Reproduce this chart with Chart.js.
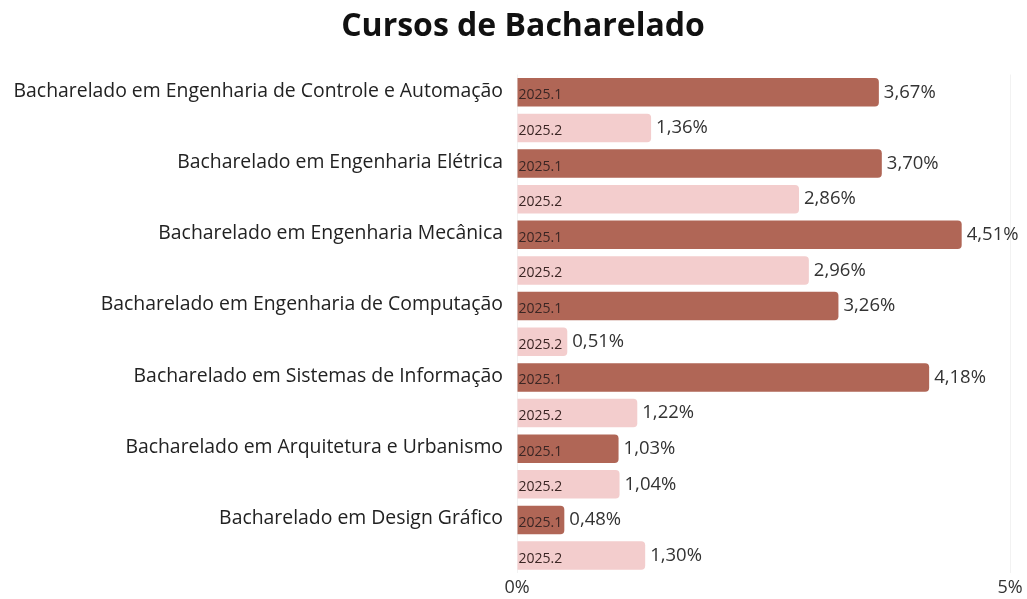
<!DOCTYPE html>
<html>
<head>
<meta charset="utf-8">
<script src="https://cdn.jsdelivr.net/npm/chart.js@4"></script>
<style>
  html, body { margin: 0; padding: 0; background: #fff; }
  #wrap { width: 1027px; height: 599px; }
</style>
</head>
<body>
<div id="wrap"><canvas id="cursosChart"></canvas></div>
<script>
const cursos = [
    'Bacharelado em Engenharia de Controle e Automação',
    'Bacharelado em Engenharia Elétrica',
    'Bacharelado em Engenharia Mecânica',
    'Bacharelado em Engenharia de Computação',
    'Bacharelado em Sistemas de Informação',
    'Bacharelado em Arquitetura e Urbanismo',
    'Bacharelado em Design Gráfico'
];
const semestres = ['2025.1', '2025.2'];
const valores20251 = [3.67, 3.70, 4.51, 3.26, 4.18, 1.03, 0.48];
const valores20252 = [1.36, 2.86, 2.96, 0.51, 1.22, 1.04, 1.30];
const ticksX = [0, 5];
const titulo = 'Cursos de Bacharelado';

const fonte = "'Open Sans', sans-serif";

function formatPct(v) {
    return v.toFixed(2).replace('.', ',') + '%';
}

// Semester tag inside each bar and the value after its end
const barLabels = {
    id: 'barLabels',
    afterDatasetsDraw(chart) {
        const ctx = chart.ctx;
        ctx.save();
        chart.data.datasets.forEach((ds, i) => {
            const meta = chart.getDatasetMeta(i);
            meta.data.forEach((bar, j) => {
                ctx.textBaseline = 'middle';
                ctx.textAlign = 'left';
                ctx.font = '14px ' + fonte;
                ctx.fillStyle = '#3b2624';
                ctx.fillText(ds.label, bar.base + 1, bar.y + 3);
                ctx.font = '18.5px ' + fonte;
                ctx.fillStyle = '#333';
                ctx.fillText(formatPct(ds.data[j]), bar.x + 5, bar.y);
            });
        });
        ctx.restore();
    }
};

// Title sits a little right of the canvas centre
const chartTitle = {
    id: 'chartTitle',
    afterDraw(chart) {
        const ctx = chart.ctx;
        ctx.save();
        ctx.font = 'bold 32px ' + fonte;
        ctx.fillStyle = '#111';
        ctx.textAlign = 'center';
        ctx.textBaseline = 'middle';
        ctx.fillText(titulo, 523, 27);
        ctx.restore();
    }
};

const ctx = document.getElementById('cursosChart').getContext('2d');
new Chart(ctx, {
    type: 'bar',
    data: {
        labels: cursos,
        datasets: [{
            label: semestres[0],
            data: valores20251,
            backgroundColor: '#b06656',
            borderRadius: 4,
            borderSkipped: 'start'
        }, {
            label: semestres[1],
            data: valores20252,
            backgroundColor: '#f3cdcd',
            borderRadius: 4,
            borderSkipped: 'start'
        }]
    },
    options: {
        indexAxis: 'y',
        responsive: true,
        maintainAspectRatio: false,
        animation: false,
        layout: {
            padding: { left: 0, right: 17, top: 74.5, bottom: 0 }
        },
        datasets: {
            bar: { categoryPercentage: 1.0, barPercentage: 0.8 }
        },
        scales: {
            x: {
                min: 0,
                max: 5,
                afterBuildTicks: scale => {
                    scale.ticks = ticksX.map(v => ({ value: v }));
                },
                afterFit: scale => { scale.height = 25; },
                ticks: {
                    callback: v => v + '%',
                    font: { family: fonte, size: 18 },
                    color: '#333',
                    padding: 4,
                    maxRotation: 0
                },
                grid: { color: '#f2f2f2', drawTicks: false },
                border: { display: false }
            },
            y: {
                afterFit: scale => { scale.width = 517; },
                ticks: {
                    font: { family: fonte, size: 19.4 },
                    color: '#222',
                    padding: 14,
                    labelOffset: -19
                },
                grid: { display: false, drawTicks: false },
                border: { display: false }
            }
        },
        plugins: {
            legend: { display: false },
            tooltip: { enabled: false },
            title: { display: false }
        }
    },
    plugins: [barLabels, chartTitle]
});
</script>
</body>
</html>
